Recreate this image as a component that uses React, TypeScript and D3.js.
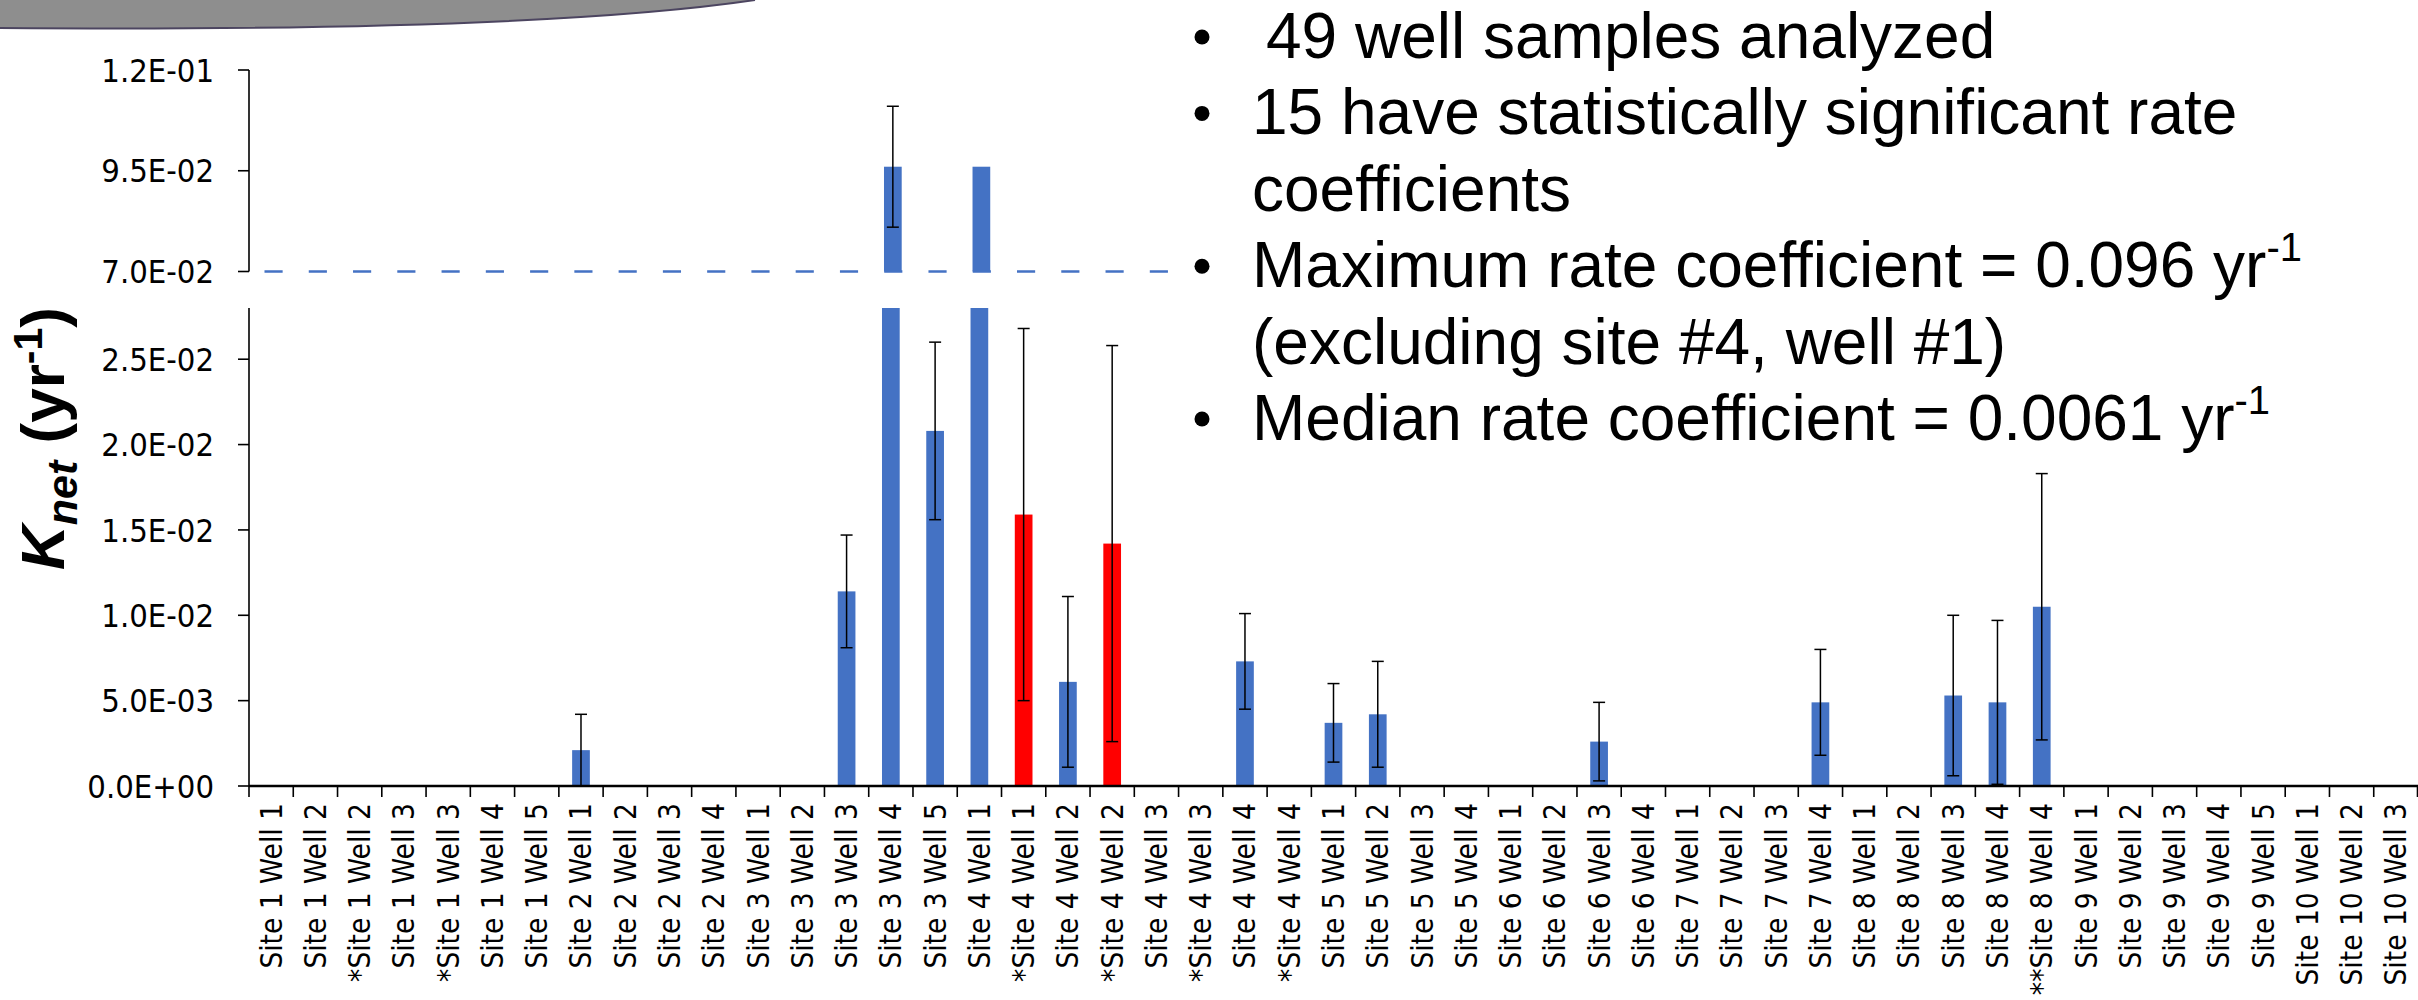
import React from 'react';
import * as d3 from 'd3';

const categories = [
  'Site 1 Well 1', 'Site 1 Well 2', '*Site 1 Well 2', 'Site 1 Well 3', '*Site 1 Well 3', 'Site 1 Well 4', 'Site 1 Well 5',
  'Site 2 Well 1', 'Site 2 Well 2', 'Site 2 Well 3', 'Site 2 Well 4',
  'Site 3 Well 1', 'Site 3 Well 2', 'Site 3 Well 3', 'Site 3 Well 4', 'Site 3 Well 5',
  'Site 4 Well 1', '*Site 4 Well 1', 'Site 4 Well 2', '*Site 4 Well 2', 'Site 4 Well 3', '*Site 4 Well 3', 'Site 4 Well 4', '*Site 4 Well 4',
  'Site 5 Well 1', 'Site 5 Well 2', 'Site 5 Well 3', 'Site 5 Well 4',
  'Site 6 Well 1', 'Site 6 Well 2', 'Site 6 Well 3', 'Site 6 Well 4',
  'Site 7 Well 1', 'Site 7 Well 2', 'Site 7 Well 3', 'Site 7 Well 4',
  'Site 8 Well 1', 'Site 8 Well 2', 'Site 8 Well 3', 'Site 8 Well 4', '**Site 8 Well 4',
  'Site 9 Well 1', 'Site 9 Well 2', 'Site 9 Well 3', 'Site 9 Well 4', 'Site 9 Well 5',
  'Site 10 Well 1', 'Site 10 Well 2', 'Site 10 Well 3',
];

// K_net values (yr^-1)
const values = [
  0, 0, 0, 0, 0, 0, 0,
  0.0021, 0, 0, 0,
  0, 0, 0.0114, 0.096, 0.0208,
  0.096, 0.0159, 0.0061, 0.0142, 0, 0, 0.0073, 0,
  0.0037, 0.0042, 0, 0,
  0, 0, 0.0026, 0,
  0, 0, 0, 0.0049,
  0, 0, 0.0053, 0.0049, 0.0105,
  0, 0, 0, 0, 0,
  0, 0, 0,
];

// symmetric error bar half-widths (0 = none)
const errors = [
  0, 0, 0, 0, 0, 0, 0,
  0.0021, 0, 0, 0,
  0, 0, 0.0033, 0.015, 0.0052,
  0, 0.0109, 0.005, 0.0116, 0, 0, 0.0028, 0,
  0.0023, 0.0031, 0, 0,
  0, 0, 0.0023, 0,
  0, 0, 0, 0.0031,
  0, 0, 0.0047, 0.0048, 0.0078,
  0, 0, 0, 0, 0,
  0, 0, 0,
];

const redBars = ['*Site 4 Well 1', '*Site 4 Well 2'];

const lowerDomain = [0, 0.028];
const upperDomain = [0.07, 0.12];
const lowerTicks = [0, 0.005, 0.01, 0.015, 0.02, 0.025];
const upperTicks = [0.07, 0.095, 0.12];
const breakLevel = 0.07;

const bulletLines = [
  { text: '49 well samples analyzed', bullet: true, sup: '', indent: true },
  { text: '15 have statistically significant rate', bullet: true, sup: '' },
  { text: 'coefficients', bullet: false, sup: '' },
  { text: 'Maximum rate coefficient = 0.096 yr', bullet: true, sup: '-1' },
  { text: '(excluding site #4, well #1)', bullet: false, sup: '' },
  { text: 'Median rate coefficient = 0.0061 yr', bullet: true, sup: '-1' },
];

const BLUE = '#4472C4';
const RED = '#FF0000';

function excelExp(v: number): string {
  if (v === 0) return '0.0E+00';
  let e = Math.floor(Math.log10(Math.abs(v)) + 1e-9);
  let m = v / Math.pow(10, e);
  let ms = m.toFixed(1);
  if (ms === '10.0') { e += 1; ms = '1.0'; }
  const sign = e < 0 ? '-' : '+';
  const ea = Math.abs(e);
  return `${ms}E${sign}${ea < 10 ? '0' + ea : ea}`;
}

export default function App() {
  const W = 2418, H = 1000;
  const xLeft = 249, xRight = 2418;
  const lowerBottom = 786, lowerTop = 308;
  const upperBottom = 271.5, upperTop = 70;

  const idx = categories.map((_, i) => i);
  const x = d3.scaleBand<number>().domain(idx).range([xLeft, xRight]).padding(0);
  const bw = x.bandwidth();
  const barW = bw * 0.4;
  const yL = d3.scaleLinear().domain(lowerDomain).range([lowerBottom, lowerTop]);
  const yU = d3.scaleLinear().domain(upperDomain).range([upperBottom, upperTop]);

  const tickFont = "'DejaVu Sans Condensed', 'DejaVu Sans', sans-serif";
  const cx = (i: number) => (x(i) as number) + bw / 2;

  const dashStart = xLeft + bw * 0.35;
  const dashEnd = 1168;

  return (
    <svg width={W} height={H} style={{ position: 'absolute', left: 0, top: 0, background: '#fff' }}>
      {/* decorative slide swoosh */}
      <defs>
        <radialGradient id="purp" cx="0.5" cy="0" r="0.6">
          <stop offset="0" stopColor="#4a2a96" />
          <stop offset="0.6" stopColor="#6a5a9c" />
          <stop offset="1" stopColor="#8e8e8e" stopOpacity="0" />
        </radialGradient>
      </defs>
      <path d="M0,0 H755 C620,20 390,31 0,28 Z" fill="#8e8e8e" />
      <ellipse cx={310} cy={-4} rx={165} ry={12} fill="url(#purp)" />
      <path d="M755,0 C620,20 390,31 0,28" fill="none" stroke="#4c4560" strokeWidth={2} />

      {/* dashed break line */}
      <line x1={dashStart} x2={dashEnd} y1={yU(breakLevel)} y2={yU(breakLevel)}
        stroke={BLUE} strokeWidth={2.6} strokeDasharray={`${bw * 0.41} ${bw * 0.59}`} />

      {/* lower bars */}
      {values.map((v, i) => {
        if (v <= 0) return null;
        const top = yL(Math.min(v, lowerDomain[1]));
        return (
          <rect key={'lb' + i} x={cx(i) - barW / 2} y={top} width={barW} height={lowerBottom - top}
            fill={redBars.includes(categories[i]) ? RED : BLUE} />
        );
      })}
      {/* upper bars */}
      {values.map((v, i) => {
        if (v <= upperDomain[0]) return null;
        const top = yU(Math.min(v, upperDomain[1]));
        return (
          <rect key={'ub' + i} x={cx(i) - barW / 2 + 2} y={top} width={barW} height={upperBottom - top}
            fill={BLUE} />
        );
      })}

      {/* error bars */}
      {values.map((v, i) => {
        const e = errors[i];
        if (!e) return null;
        const lo = v - e, hi = v + e;
        const c = cx(i);
        if (v > upperDomain[0]) {
          const c2 = c + 2;
          return (
            <g key={'eb' + i} stroke="#000" strokeWidth={1.5}>
              <line x1={c2} x2={c2} y1={yU(hi)} y2={yU(lo)} />
              <line x1={c2 - 6} x2={c2 + 6} y1={yU(hi)} y2={yU(hi)} />
              <line x1={c2 - 6} x2={c2 + 6} y1={yU(lo)} y2={yU(lo)} />
            </g>
          );
        }
        const loC = Math.max(lo, 0);
        return (
          <g key={'eb' + i} stroke="#000" strokeWidth={1.5}>
            <line x1={c} x2={c} y1={yL(hi)} y2={yL(loC)} />
            <line x1={c - 6} x2={c + 6} y1={yL(hi)} y2={yL(hi)} />
            {lo > 0 && <line x1={c - 6} x2={c + 6} y1={yL(lo)} y2={yL(lo)} />}
          </g>
        );
      })}

      {/* y axes */}
      <line x1={xLeft} x2={xLeft} y1={upperTop} y2={upperBottom} stroke="#000" strokeWidth={1.6} />
      <line x1={xLeft} x2={xLeft} y1={lowerTop} y2={lowerBottom} stroke="#000" strokeWidth={1.6} />
      {upperTicks.map((t) => (
        <g key={'ut' + t}>
          <line x1={xLeft - 11} x2={xLeft} y1={yU(t)} y2={yU(t)} stroke="#000" strokeWidth={1.6} />
          <text x={214} y={yU(t)} dy="0.36em" textAnchor="end" fontFamily={tickFont} fontSize={32.5}
            style={{ fontStretch: 'condensed' }}>{excelExp(t)}</text>
        </g>
      ))}
      {lowerTicks.map((t) => (
        <g key={'lt' + t}>
          <line x1={xLeft - 11} x2={xLeft} y1={yL(t)} y2={yL(t)} stroke="#000" strokeWidth={1.6} />
          <text x={214} y={yL(t)} dy="0.36em" textAnchor="end" fontFamily={tickFont} fontSize={32.5}
            style={{ fontStretch: 'condensed' }}>{excelExp(t)}</text>
        </g>
      ))}

      {/* x axis */}
      <line x1={xLeft} x2={xRight} y1={lowerBottom} y2={lowerBottom} stroke="#000" strokeWidth={2.4} />
      {d3.range(categories.length + 1).map((k) => {
        const xx = k < categories.length ? (x(k) as number) : xRight - 0.5;
        return <line key={'xt' + k} x1={xx} x2={xx} y1={lowerBottom} y2={lowerBottom + 11} stroke="#000" strokeWidth={1.6} />;
      })}
      {categories.map((c, i) => (
        <text key={'xl' + i} transform={`translate(${cx(i) + 10.5},${803}) rotate(-90)`} textAnchor="end"
          fontFamily={tickFont} fontSize={29.5} style={{ fontStretch: 'condensed' }}>{c}</text>
      ))}

      {/* y axis title */}
      <text transform="translate(64,570) rotate(-90)" fontFamily="'Liberation Sans', Arial, sans-serif"
        fontWeight="bold" fontSize={62}>
        <tspan fontStyle="italic">K</tspan>
        <tspan fontStyle="italic" fontSize={43} dy={13}>net</tspan>
        <tspan dy={-13}>{' (yr'}</tspan>
        <tspan fontSize={41} dy={-22}>-1</tspan>
        <tspan dy={22}>)</tspan>
      </text>

      {/* bullet text */}
      {bulletLines.map((l, i) => {
        const base = 58 + i * 76.4;
        return (
          <g key={'bl' + i}>
            {l.bullet && <circle cx={1202} cy={base - 21} r={7.5} fill="#000" />}
            <text x={l.indent ? 1266 : 1252} y={base} fontFamily="'Liberation Sans', Arial, sans-serif" fontSize={64} fill="#000">
              {l.text}
              {l.sup && <tspan fontSize={40} dy={-26}>{l.sup}</tspan>}
            </text>
          </g>
        );
      })}
    </svg>
  );
}
